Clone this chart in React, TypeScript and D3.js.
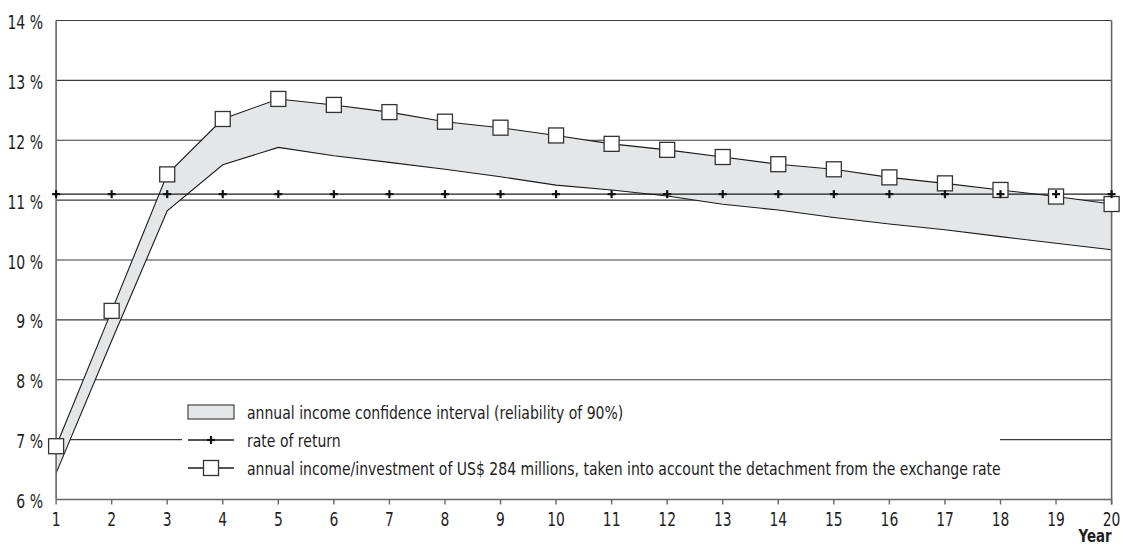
import React from "react";
import * as d3 from "d3";

const years = [1, 2, 3, 4, 5, 6, 7, 8, 9, 10, 11, 12, 13, 14, 15, 16, 17, 18, 19, 20];
const incomeUpper = [6.89, 9.15, 11.43, 12.355, 12.69, 12.59, 12.47, 12.31, 12.21, 12.08, 11.94, 11.84, 11.72, 11.6, 11.515, 11.38, 11.28, 11.17, 11.06, 10.935];
const incomeLower = [6.44, 8.65, 10.82, 11.59, 11.88, 11.74, 11.63, 11.515, 11.39, 11.25, 11.17, 11.07, 10.93, 10.835, 10.71, 10.6, 10.505, 10.39, 10.28, 10.17];
const rateOfReturn = [11.1, 11.1, 11.1, 11.1, 11.1, 11.1, 11.1, 11.1, 11.1, 11.1, 11.1, 11.1, 11.1, 11.1, 11.1, 11.1, 11.1, 11.1, 11.1, 11.1];
const yTicks = [6, 7, 8, 9, 10, 11, 12, 13, 14];
const legendLabels = [
  "annual income confidence interval (reliability of 90%)",
  "rate of return",
  "annual income/investment of US$ 284 millions, taken into account the detachment from the exchange rate",
];
const xAxisTitle = "Year";

const FONT = "'Liberation Sans Narrow', 'DejaVu Sans Condensed', 'Roboto Condensed', 'Liberation Sans', Arial, sans-serif";

function T(props: { x: number; y: number; s: number; size: number; anchor?: string; bold?: boolean; children: React.ReactNode }) {
  const { x, y, s, size, anchor, bold, children } = props;
  return (
    <text
      transform={`translate(${x},${y}) scale(${s},1)`}
      textAnchor={anchor || "start"}
      fontSize={size}
      fontWeight={bold ? "bold" : "normal"}
      fill="#1e1e1e"
    >
      {children}
    </text>
  );
}

export default function App() {
  const W = 1123, H = 546;
  const left = 56.1, right = 1111.6, top = 20.5, bottom = 499.5;
  const x = d3.scaleLinear().domain([1, 20]).range([left, right]);
  const y = d3.scaleLinear().domain([6, 14]).range([bottom, top]);

  const area = d3
    .area<number>()
    .x((_, i) => x(years[i]))
    .y0((_, i) => y(incomeLower[i]))
    .y1((_, i) => y(incomeUpper[i]));
  const lineU = d3.line<number>().x((_, i) => x(years[i])).y((d) => y(d));

  const legendX = 188;
  const legendRows = [412, 440, 468];
  const sq = 15;

  return (
    <svg width={W} height={H} style={{ position: "absolute", left: 0, top: 0, background: "#fff" }} fontFamily={FONT}>
      <rect x={0} y={0} width={W} height={H} fill="#fff" />
      {yTicks.map((t) =>
        t === 6 ? null : (
          <line key={"g" + t} x1={left} x2={right} y1={y(t)} y2={y(t)} stroke="#3a3a3a" strokeWidth={1.1} />
        )
      )}
      <rect x={182} y={394} width={818} height={92} fill="#fff" />
      <path d={area(years) || ""} fill="#e5e6e7" stroke="none" />
      <path d={lineU(incomeLower) || ""} fill="none" stroke="#1a1a1a" strokeWidth={1.1} />
      <path d={lineU(incomeUpper) || ""} fill="none" stroke="#1a1a1a" strokeWidth={1.1} />
      <path d={lineU(rateOfReturn) || ""} fill="none" stroke="#1a1a1a" strokeWidth={1.3} />
      <line x1={left} x2={left} y1={top} y2={bottom} stroke="#666" strokeWidth={1.6} />
      <line x1={right} x2={right} y1={top} y2={bottom + 5} stroke="#666" strokeWidth={1.6} />
      <line x1={left} x2={right} y1={bottom} y2={bottom} stroke="#666" strokeWidth={1.6} />
      {years.map((yr) => (
        <line key={"t" + yr} x1={x(yr)} x2={x(yr)} y1={bottom} y2={bottom + 5} stroke="#666" strokeWidth={1.4} />
      ))}
      {incomeUpper.map((v, i) => (
        <rect key={"s" + i} x={x(years[i]) - sq / 2} y={y(v) - sq / 2} width={sq} height={sq} fill="#fff" stroke="#333" strokeWidth={1.3} />
      ))}
      {rateOfReturn.map((v, i) => (
        <g key={"c" + i} stroke="#111" strokeWidth={2.2}>
          <line x1={x(years[i]) - 4} x2={x(years[i]) + 4} y1={y(v)} y2={y(v)} />
          <line x1={x(years[i])} x2={x(years[i])} y1={y(v) - 4} y2={y(v) + 4} />
        </g>
      ))}
      {yTicks.map((t) => (
        <T key={"yl" + t} x={43} y={y(t) + 8.5} s={0.8} size={19.5} anchor="end">
          {t + " %"}
        </T>
      ))}
      {years.map((yr) => (
        <T key={"xl" + yr} x={x(yr)} y={525.5} s={0.79} size={19.5} anchor="middle">
          {yr}
        </T>
      ))}
      <T x={right} y={542} s={0.85} size={17.5} anchor="end" bold>
        {xAxisTitle}
      </T>
      <rect x={legendX} y={legendRows[0] - 7} width={46} height={14} fill="#e5e6e7" stroke="#444" strokeWidth={1.2} />
      <line x1={legendX} x2={legendX + 46} y1={legendRows[1]} y2={legendRows[1]} stroke="#1a1a1a" strokeWidth={1.3} />
      <g stroke="#111" strokeWidth={2.2}>
        <line x1={legendX + 23 - 4} x2={legendX + 23 + 4} y1={legendRows[1]} y2={legendRows[1]} />
        <line x1={legendX + 23} x2={legendX + 23} y1={legendRows[1] - 4} y2={legendRows[1] + 4} />
      </g>
      <line x1={legendX} x2={legendX + 46} y1={legendRows[2]} y2={legendRows[2]} stroke="#1a1a1a" strokeWidth={1.3} />
      <rect x={legendX + 23 - sq / 2} y={legendRows[2] - sq / 2} width={sq} height={sq} fill="#fff" stroke="#333" strokeWidth={1.3} />
      {legendLabels.map((l, i) => (
        <T key={"lg" + i} x={247} y={legendRows[i] + 6.5} s={0.866} size={18}>
          {l}
        </T>
      ))}
    </svg>
  );
}
